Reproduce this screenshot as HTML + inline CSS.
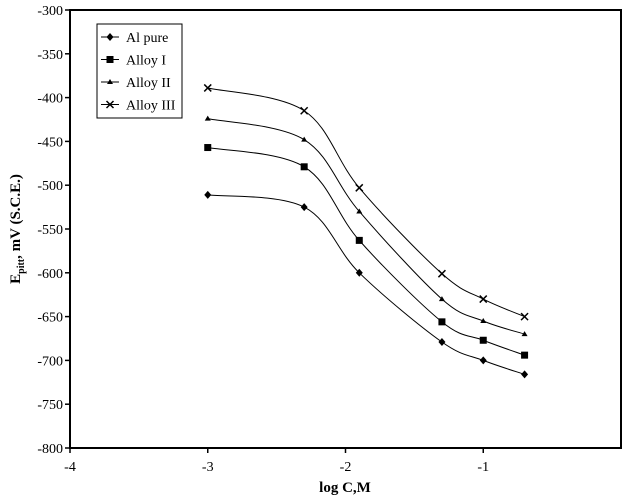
<!DOCTYPE html>
<html><head><meta charset="utf-8"><style>
body{margin:0;background:#fff;}
svg{display:block;font-family:"Liberation Serif",serif;}
</style></head><body>
<svg id="chart" width="623" height="500"></svg>
<script>
const xVals=[-3,-2.3,-1.9,-1.3,-1,-0.7];
const alPure=[-511,-525,-600,-679,-700,-716];
const alloyI=[-457,-479,-563,-656,-677,-694];
const alloyII=[-424,-448,-530,-630,-655,-670];
const alloyIII=[-389,-415,-503,-601,-630,-650];
const xTicks=[-4,-3,-2,-1];
const yTicks=[-300,-350,-400,-450,-500,-550,-600,-650,-700,-750,-800];
const seriesNames=["Al pure","Alloy I","Alloy II","Alloy III"];
const NS="http://www.w3.org/2000/svg";
const svg=document.getElementById('chart');
const L=70,R=621,T=10,B=448;
const xs=v=>L+(v+4)/4*(R-L);
const ys=v=>T+(-300-v)/500*(B-T);
function mk(t,a,p){const e=document.createElementNS(NS,t);for(const k in a)e.setAttribute(k,a[k]);(p||svg).appendChild(e);return e;}
const frame=mk('rect',{x:L,y:T,width:R-L,height:B-T,fill:'none',stroke:'#000','stroke-width':2});


yTicks.forEach(v=>{
 const t=mk('line',{x1:L-5,x2:L,y1:ys(v),y2:ys(v),stroke:'#000','stroke-width':1.5});
 
 
 const l=mk('text',{x:L-7,y:ys(v)+5,'text-anchor':'end','font-size':14});
 l.textContent=v;
 
 
});
xTicks.forEach(v=>{
 const t=mk('line',{x1:xs(v),x2:xs(v),y1:B,y2:B+5,stroke:'#000','stroke-width':1.5});
 
 
 const l=mk('text',{x:xs(v),y:B+23,'text-anchor':'middle','font-size':14});
 l.textContent=v;
 
 
});
const xt=mk('text',{x:345,y:492,'text-anchor':'middle','font-size':15,'font-weight':'bold'});
xt.textContent='log C,M';


const yt=mk('text',{transform:'translate(20,229) rotate(-90)','text-anchor':'middle','font-size':15,'font-weight':'bold'});
yt.innerHTML='E<tspan font-size="10" dy="4">pitt</tspan><tspan dy="-4">, mV (S.C.E.)</tspan>';


function pathD(px){let d=`M${px[0][0]},${px[0][1]}`;
 for(let i=0;i<px.length-1;i++){const p0=px[Math.max(i-1,0)],p1=px[i],p2=px[i+1],p3=px[Math.min(i+2,px.length-1)];
 const c1=[p1[0]+(p2[0]-p0[0])/6,p1[1]+(p2[1]-p0[1])/6],c2=[p2[0]-(p3[0]-p1[0])/6,p2[1]-(p3[1]-p1[1])/6];
 d+=` C${c1[0]},${c1[1]} ${c2[0]},${c2[1]} ${p2[0]},${p2[1]}`;}return d;}
function marker(type,x,y,g){
 if(type===0)return mk('polygon',{points:`${x},${y-4} ${x+3.5},${y} ${x},${y+4} ${x-3.5},${y}`,fill:'#000'},g);
 if(type===1)return mk('rect',{x:x-3.5,y:y-3.5,width:7,height:7,fill:'#000'},g);
 if(type===2)return mk('polygon',{points:`${x},${y-3} ${x+3},${y+2} ${x-3},${y+2}`,fill:'#000'},g);
 return mk('path',{d:`M${x-3.5},${y-3.5}L${x+3.5},${y+3.5}M${x+3.5},${y-3.5}L${x-3.5},${y+3.5}`,stroke:'#000','stroke-width':1.5},g);
}
[alPure,alloyI,alloyII,alloyIII].forEach((s,k)=>{
 const g=mk('g',{});
 
 
 const px=s.map((v,i)=>[xs(xVals[i]),ys(v)]);
 const p=mk('path',{d:pathD(px),fill:'none',stroke:'#000','stroke-width':1},g);
 
 
 px.forEach(q=>{const m=marker(k,q[0],q[1],g);
  
  });
});
const lg=mk('g',{});


mk('rect',{x:97,y:24,width:85,height:94,fill:'#fff',stroke:'#000','stroke-width':1},lg);
seriesNames.forEach((n,k)=>{
 const y=37+k*22.5;
 const e=mk('g',{},lg);
 
 
 mk('line',{x1:101,x2:119,y1:y,y2:y,stroke:'#000'},e);
 marker(k,110,y,e);
 const t=mk('text',{x:126,y:y+5,'font-size':14},e);
 t.textContent=n;
});
</script>
</body></html>
